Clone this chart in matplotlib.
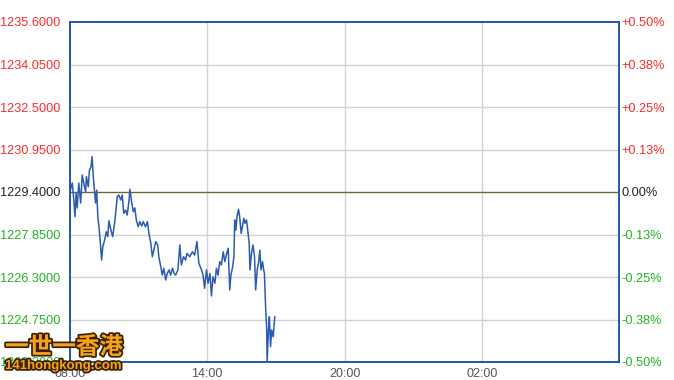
import matplotlib
matplotlib.use("Agg")
import matplotlib.pyplot as plt
import matplotlib.patheffects as pe

# minutes after 08:00 and price
minutes = [1, 6, 10, 13, 16, 19, 23, 28, 32, 36, 41, 43, 48, 51, 55, 58, 61, 64, 67, 70,
           73, 76, 79, 83, 86, 91, 95, 99, 102, 106, 112, 118, 124, 128, 133, 137, 141, 146, 150, 155,
           157, 162, 166, 170, 174, 179, 183, 188, 192, 198, 203, 207, 212, 216, 220, 225, 230, 233, 238, 242,
           246, 251, 255, 260, 264, 269, 273, 277, 283, 288, 292, 298, 303, 307, 314, 321, 327, 333, 338, 345,
           349, 353, 358, 362, 367, 371, 375, 380, 384, 388, 393, 397, 402, 406, 410, 415, 419, 422, 426, 430,
           432, 435, 438, 442, 445, 449, 452, 456, 459, 463, 466, 470, 472, 476, 480, 484, 487, 491, 495, 498,
           501, 505, 508, 510, 513, 516, 517, 521, 523, 526, 529, 533, 537]
prices = [1229.47, 1229.73, 1229.11, 1228.50, 1229.36, 1228.82, 1229.73, 1229.00, 1230.02, 1229.73,
          1229.41, 1229.96, 1229.59, 1230.20, 1230.32, 1230.69, 1229.96, 1229.47, 1229.00, 1229.47,
          1228.50, 1228.13, 1227.65, 1226.92, 1227.41, 1227.65, 1227.95, 1227.77, 1228.35, 1228.09,
          1227.77, 1228.38, 1229.23, 1229.29, 1229.11, 1229.29, 1228.62, 1228.74, 1228.56, 1229.11,
          1229.50, 1229.00, 1228.68, 1228.82, 1228.38, 1228.13, 1228.32, 1228.16, 1228.32, 1228.13,
          1228.32, 1227.89, 1227.53, 1227.04, 1227.28, 1227.59, 1227.47, 1227.04, 1226.68, 1226.37,
          1226.62, 1226.19, 1226.43, 1226.56, 1226.37, 1226.62, 1226.43, 1226.37, 1226.56, 1227.47,
          1226.74, 1227.04, 1226.92, 1227.16, 1227.04, 1227.22, 1227.10, 1227.59, 1226.80, 1226.56,
          1226.37, 1225.89, 1226.56, 1226.07, 1226.43, 1225.61, 1226.31, 1226.07, 1226.62, 1226.37,
          1226.86, 1226.74, 1227.22, 1226.86, 1227.10, 1227.35, 1225.83, 1226.37, 1226.62, 1227.04,
          1228.38, 1228.01, 1228.50, 1228.77, 1228.50, 1227.89, 1228.13, 1228.44, 1228.26, 1228.38,
          1228.01, 1227.53, 1226.56, 1227.16, 1227.47, 1227.04, 1225.83, 1226.56, 1226.86, 1227.28,
          1226.56, 1226.86, 1226.56, 1226.43, 1225.22, 1224.37, 1223.21, 1224.49, 1224.85, 1223.76,
          1224.37, 1224.12, 1224.85]

prev_close = 1229.4
price_ticks = [1223.2, 1224.75, 1226.3, 1227.85, 1229.4, 1230.95, 1232.5, 1234.05, 1235.6]
pct_labels = ["-0.50%", "-0.38%", "-0.25%", "-0.13%", "0.00%", "+0.13%", "+0.25%", "+0.38%", "+0.50%"]
time_ticks = [0, 360, 720, 1080]
time_labels = ["08:00", "14:00", "20:00", "02:00"]

RED = "#ff2a2a"
GREEN = "#22b322"
BLUE = "#1f55b5"

plt.rcParams["font.family"] = ["Liberation Sans", "DejaVu Sans"]

fig = plt.figure(figsize=(6.74, 3.8), dpi=100)
ax = fig.add_axes([70 / 674, 1 - 362 / 380, 549 / 674, 340 / 380])

for t in time_ticks[1:]:
    ax.axvline(t, color="#d2d2d2", lw=1, zorder=1)
for p in price_ticks[1:-1]:
    if p != prev_close:
        ax.axhline(p, color="#d2d2d2", lw=1, zorder=1)
ax.axhline(prev_close, color="#6b6b2e", lw=1, zorder=2)

ax.plot(minutes, prices, color="#2a5cb0", lw=1.1, zorder=3)

ax.set_xlim(0, 1440)
ax.set_ylim(price_ticks[0], price_ticks[-1])
ax.set_xticks(time_ticks)
ax.set_xticklabels(time_labels)
ax.set_yticks(price_ticks)
ax.set_yticklabels(["%.4f" % p for p in price_ticks])
ax.tick_params(axis="x", length=0, pad=4, labelsize=9, labelcolor="#555555")
ax.tick_params(axis="y", length=0, pad=7, labelsize=9.2)

ax2 = ax.twinx()
ax2.set_ylim(price_ticks[0], price_ticks[-1])
ax2.set_yticks(price_ticks)
ax2.set_yticklabels(pct_labels)
ax2.tick_params(axis="y", length=0, pad=2, labelsize=9.2)

for a, labels in ((ax, ax.get_yticklabels()), (ax2, ax2.get_yticklabels())):
    for p, lab in zip(price_ticks, labels):
        if p > prev_close:
            lab.set_color(RED)
        elif p < prev_close:
            lab.set_color(GREEN)
        else:
            lab.set_color("#222222")

for a in (ax, ax2):
    for s in a.spines.values():
        s.set_color(BLUE)
        s.set_linewidth(1.2)

# watermark logo
outline = [pe.withStroke(linewidth=2.5, foreground="#3a2200")]
fig.text(5 / 674, 1 - 347 / 380, "一世一香港", family=["Noto Sans CJK TC", "DejaVu Sans"],
         fontsize=17, fontweight="bold", color="#f7a21b", va="center", ha="left",
         path_effects=outline, zorder=10)
fig.text(5 / 674, 1 - 366 / 380, "141hongkong.com", fontsize=9.5, fontweight="bold",
         color="#f7a21b", va="center", ha="left", path_effects=outline, zorder=10)

fig.savefig("out.png", dpi=100)
